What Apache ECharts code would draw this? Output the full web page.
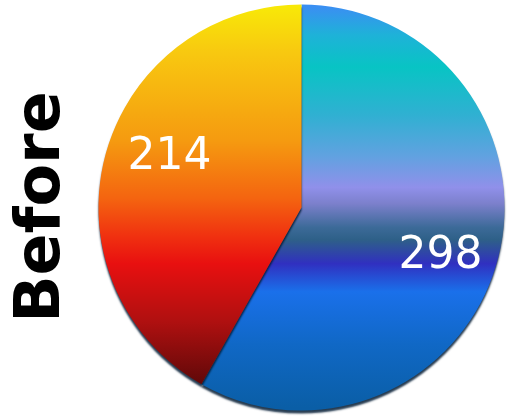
<!DOCTYPE html>
<html>
<head>
<meta charset="utf-8">
<script src="https://cdn.jsdelivr.net/npm/echarts@6/dist/echarts.min.js"></script>
<style>
html,body{margin:0;padding:0;background:#fff;}
#chart{width:508px;height:417px;}
</style>
</head>
<body>
<div id="chart"></div>
<script>
const categories = ['After', 'Before-part'];
const values = [298, 214];
const sideTitle = 'Before';

const blueGrad = {
  type: 'linear', x: 0, y: 7, x2: 0, y2: 408, global: true,
  colorStops: [
    {offset: 0.00, color: '#3a8ff2'},
    {offset: 0.07, color: '#1eb2d8'},
    {offset: 0.15, color: '#08c4c4'},
    {offset: 0.27, color: '#30b0d2'},
    {offset: 0.37, color: '#60a2e0'},
    {offset: 0.45, color: '#9090ea'},
    {offset: 0.49, color: '#7c80cc'},
    {offset: 0.55, color: '#3c6a98'},
    {offset: 0.58, color: '#2e6088'},
    {offset: 0.64, color: '#3030c0'},
    {offset: 0.71, color: '#1a70ea'},
    {offset: 0.84, color: '#1068c6'},
    {offset: 1.00, color: '#0a5ea6'}
  ]
};
const orangeGrad = {
  type: 'linear', x: 0, y: 7, x2: 0, y2: 390, global: true,
  colorStops: [
    {offset: 0.00, color: '#f8e808'},
    {offset: 0.12, color: '#f8c810'},
    {offset: 0.35, color: '#f59a10'},
    {offset: 0.50, color: '#f46410'},
    {offset: 0.60, color: '#f03010'},
    {offset: 0.67, color: '#e81010'},
    {offset: 0.82, color: '#b01010'},
    {offset: 1.00, color: '#580808'}
  ]
};
const sliceColors = [blueGrad, orangeGrad];

const chart = echarts.init(document.getElementById('chart'), null, {renderer: 'canvas'});
chart.setOption({
  animation: false,
  graphic: [{
    type: 'text',
    x: 43, y: 207,
    rotation: Math.PI / 2,
    style: {
      text: sideTitle,
      fontFamily: 'DejaVu Sans',
      fontWeight: 'bold',
      fontSize: 62,
      fill: '#000',
      align: 'center',
      verticalAlign: 'middle'
    }
  }],
  series: [{
    type: 'pie',
    center: [301.5, 207.5],
    radius: [0, 203],
    startAngle: 90,
    clockwise: true,
    label: {
      show: true,
      position: 'inside',
      formatter: '{c}',
      color: '#fff',
      fontFamily: 'DejaVu Sans',
      fontSize: 44
    },
    labelLine: {show: false},
    labelLayout: function (p) {
      return p.dataIndex === 0 ? {dx: 38, dy: 22} : {dx: -31, dy: -23};
    },
    itemStyle: {
      borderWidth: 0,
      shadowColor: 'rgba(0,25,50,0.85)',
      shadowBlur: 2,
      shadowOffsetY: 3
    },
    emphasis: {disabled: true},
    data: categories.map((c, i) => ({
      name: c, value: values[i],
      itemStyle: {color: sliceColors[i]}
    }))
  }]
});
</script>
</body>
</html>
